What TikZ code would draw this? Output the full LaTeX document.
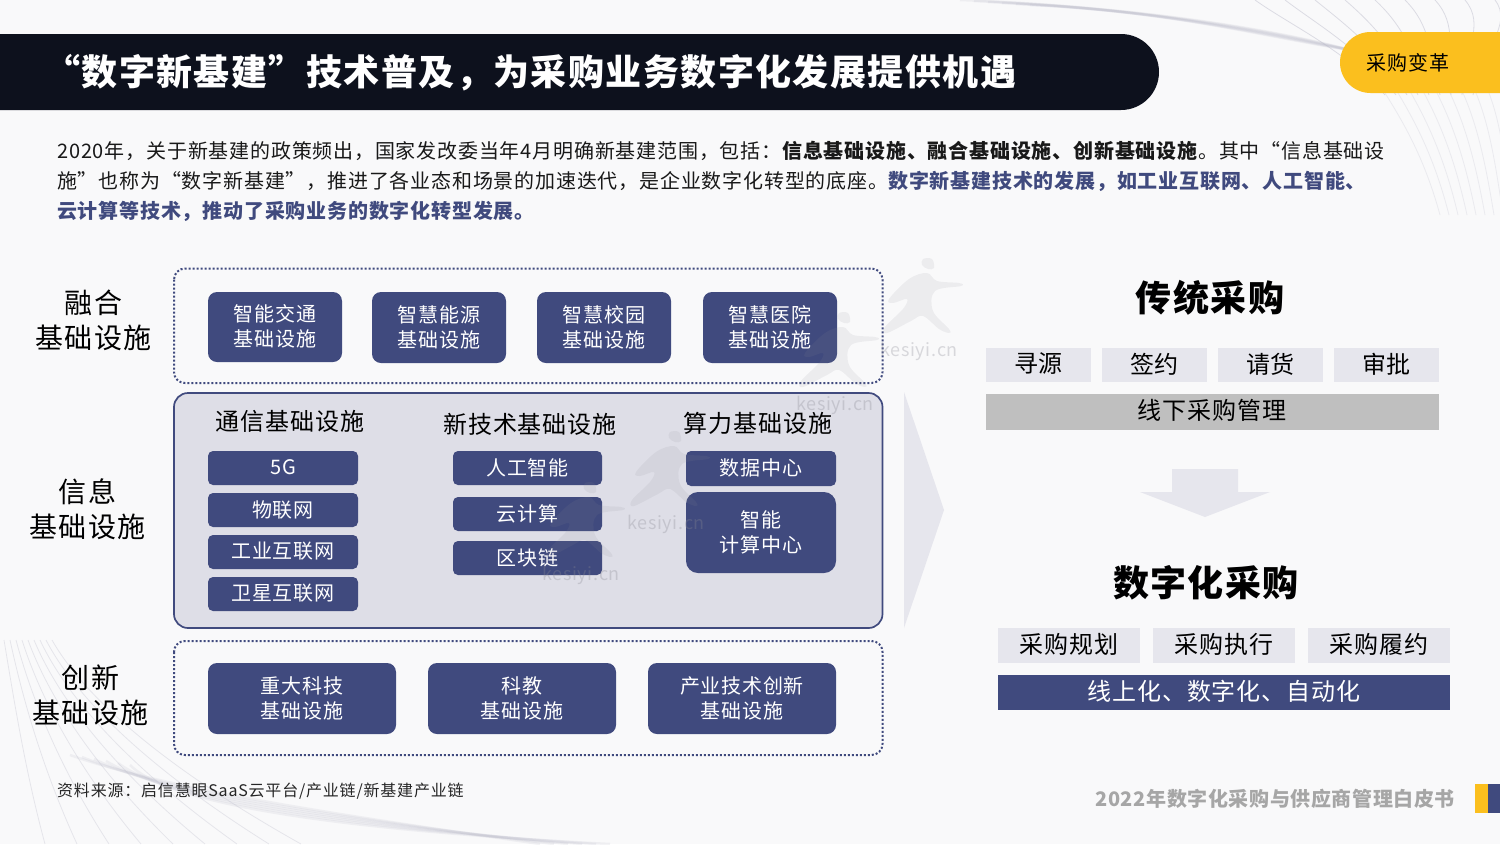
\documentclass[tikz,border=0pt]{standalone}
\usepackage{fontspec}
\setmainfont[LetterSpace=4]{Noto Sans CJK SC}
\setsansfont[LetterSpace=4]{Noto Sans CJK SC}
\definecolor{navy}{HTML}{404A7E}
\definecolor{dark}{HTML}{0D111D}
\definecolor{gold}{HTML}{FBBF1E}
\definecolor{bg}{HTML}{F9F9FA}
\definecolor{panel}{HTML}{DEDEE7}
\definecolor{chip}{HTML}{E6E6ED}
\definecolor{grayc}{HTML}{BFBFBF}
\definecolor{footc}{HTML}{A6A6A6}
\definecolor{wm}{HTML}{8A8A94}
\definecolor{swc}{HTML}{B8B8C8}
\newcommand{\fs}[2]{\fontsize{#1}{#2}\selectfont}
\tikzset{x=1pt,y=-1pt,
 wt/.style={text=white,align=center,font=\fs{20}{25},inner sep=0pt},
 lab/.style={text=black,align=center,font=\fs{28}{35},inner sep=0pt},
 head/.style={text=black,align=center,font=\fs{24}{30},inner sep=0pt},
 line/.style={anchor=west,inner sep=0pt,font=\fs{20}{25},text=black!90},
 chiptxt/.style={text=black,font=\fs{24}{30},inner sep=0pt,align=center},
 swoosh/.style={draw=swc,line width=.8pt,opacity=.45},
 swfade/.style={draw=swc,line width=.8pt,opacity=.22},
 band/.style={draw=swc,line width=2.5pt,opacity=.16},
 wmk/.style={text=wm,font=\fs{18}{24},inner sep=0pt,opacity=.3},
 wmf/.style={fill=wm,draw=none,opacity=.11}}
\newcommand{\bx}[7][9pt]{%
 \fill[navy,rounded corners=#1] (#3,#4) rectangle (#5,#6);
 \node[wt] (#2) at ({(#3+#5)/2},{(#4+#6)/2-.5}) {#7};}
\newcommand{\chipb}[6]{%
 \fill[chip] (#2,#3) rectangle (#4,#5);
 \node[chiptxt] (#1) at ({(#2+#4)/2},{(#3+#5)/2-1}) {#6};}
\newcommand{\runner}[3]{%
 \begin{scope}[shift={(#1,#2)}]
  \fill[wmf] plot[smooth cycle,tension=.6] coordinates {(4,-92) (13,-92) (15,-83) (9,-82) (3,-86)};
  \fill[wmf] plot[smooth cycle,tension=.6] coordinates {(-10,-72) (8,-78) (18,-70) (40,-68) (42,-65) (16,-60) (14,-40) (30,-22) (30,-18) (20,-22) (4,-35) (-8,-30) (-32,-18) (-34,-24) (-16,-42) (-12,-52) (-26,-48) (-30,-52)};
  \node[wmk] (#3) at (0,0) {kesiyi.cn};
 \end{scope}}
\begin{document}
\begin{tikzpicture}
\useasboundingbox (0,0) rectangle (1500,844);
\fill[bg] (0,0) rectangle (1500,844);
% background swooshes
\foreach \i in {0,...,5}{
 \draw[band] (960+\i*14,\i*1) .. controls (1120+\i*10,6+\i) and (1260,26+\i*2) .. (1350,50);
 \draw[band] (70+\i*12,755+\i*2) .. controls (170,790+\i*3) and (340,815+\i*3) .. (540+\i*14,844);
}
\foreach \i in {0,...,8}{
 \draw[swoosh] (1255+\i*30,0) .. controls (1290+\i*28,25) and (1345+\i*17,50) .. (1385+\i*11,95);
 \draw[swfade] (1385+\i*13,93) .. controls (1405+\i*12,125) and (1425+\i*10,160) .. (1440+\i*9,215);
 \draw[swoosh,opacity=.3] (4+\i*6,640) .. controls (14+\i*9,700) and (25+\i*18,770) .. (45+\i*32,844);
}
% title
\fill[dark,rounded corners=38pt] (-60,34) rectangle (1159,110);
\node[anchor=west,inner sep=0pt,text=white,font=\fs{36}{40}\bfseries] (title) at (44,73) {“数字新基建”技术普及，为采购业务数字化发展提供机遇};
% tag
\fill[gold,rounded corners=30.5pt] (1340,32) rectangle (1560,93);
\node[inner sep=0pt,font=\fs{20}{25},text=black] (tag) at (1408,63) {采购变革};
% intro
\node[line] (l1) at (57,151) {2020年，关于新基建的政策频出，国家发改委当年4月明确新基建范围，包括：\textbf{信息基础设施、融合基础设施、创新基础设施}。其中“信息基础设};
\node[line] (l2) at (57,181) {施”也称为“数字新基建”，推进了各业态和场景的加速迭代，是企业数字化转型的底座。\textcolor{navy}{\textbf{数字新基建技术的发展，如工业互联网、人工智能、}}};
\node[line] (l3) at (57,211) {\textcolor{navy}{\textbf{云计算等技术，推动了采购业务的数字化转型发展。}}};
% left labels
\node[lab] (a) at (93.5,320) {融合\\基础设施};
\node[lab] (b) at (87.5,509) {信息\\基础设施};
\node[lab] (c) at (90.5,695) {创新\\基础设施};
% frames
\draw[navy,line width=2pt,dotted,rounded corners=11pt] (174,268.5) rectangle (882.5,383);
\draw[navy,line width=2pt,dotted,rounded corners=11pt] (174,641) rectangle (882.5,755);
\filldraw[fill=panel,draw=navy,line width=1.7pt,rounded corners=14pt] (174,393) rectangle (882.5,628);
% top row
\bx{t1}{208}{292}{342}{362}{智能交通\\基础设施}
\bx{t2}{372}{292}{506}{363}{智慧能源\\基础设施}
\bx{t3}{537}{292}{671}{363}{智慧校园\\基础设施}
\bx{t4}{703}{292}{837}{363}{智慧医院\\基础设施}
% heads
\node[head] (h1) at (290,421) {通信基础设施};
\node[head] (h2) at (530,424) {新技术基础设施};
\node[head] (h3) at (758,423) {算力基础设施};
% column 1
\bx[5pt]{m1}{208}{451}{358}{485}{5G}
\bx[5pt]{m2}{208}{493}{358}{527}{物联网}
\bx[5pt]{m3}{208}{535}{358}{569}{工业互联网}
\bx[5pt]{m4}{208}{577}{358}{611}{卫星互联网}
% column 2
\bx[5pt]{n1}{453}{451}{602}{485}{人工智能}
\bx[5pt]{n2}{453}{497}{602}{531}{云计算}
\bx[5pt]{n3}{453}{541}{602}{575}{区块链}
% column 3
\bx[5pt]{p1}{686}{451}{836}{486}{数据中心}
\bx[12pt]{p2}{686}{492}{836}{573}{智能\\计算中心}
% bottom row
\bx{q1}{208}{663}{396}{734}{重大科技\\基础设施}
\bx{q2}{428}{663}{616}{734}{科教\\基础设施}
\bx{q3}{648}{663}{836}{734}{产业技术创新\\基础设施}
% source
\node[anchor=west,inner sep=0pt,font=\fs{16}{20},text=black!85] (src) at (57,791.5) {\addfontfeature{LetterSpace=5}资料来源：启信慧眼SaaS云平台/产业链/新基建产业链};
% big arrow
\fill[chip] (904,392) -- (944,510) -- (904,628) -- cycle;
% right side
\node[inner sep=0pt,font=\fs{36}{40}\bfseries,text=black] (tr) at (1210,298) {传统采购};
\chipb{r1}{986}{348}{1091}{382}{寻源}
\chipb{r2}{1102}{348}{1207}{382}{签约}
\chipb{r3}{1218}{348}{1323}{382}{请货}
\chipb{r4}{1334}{348}{1439}{382}{审批}
\fill[grayc] (986,394) rectangle (1439,430);
\node[chiptxt] (r5) at (1212,410.5) {线下采购管理};
\fill[chip] (1172,469) -- (1238,469) -- (1238,492) -- (1270,492) -- (1205,517) -- (1140,492) -- (1172,492) -- cycle;
\node[inner sep=0pt,font=\fs{36}{40}\bfseries,text=black] (dg) at (1206,583) {数字化采购};
\chipb{d1}{998}{628}{1140}{663}{采购规划}
\chipb{d2}{1153}{628}{1295}{663}{采购执行}
\chipb{d3}{1308}{628}{1450}{663}{采购履约}
\fill[navy] (998,675) rectangle (1450,710);
\node[chiptxt,text=white] (d4) at (1224,691) {线上化、数字化、自动化};
% footer
\node[anchor=east,inner sep=0pt,font=\fs{20}{25}\bfseries,text=footc] (ft) at (1455,799) {\addfontfeature{LetterSpace=3}2022年数字化采购与供应商管理白皮书};
\fill[gold] (1475,784) rectangle (1488,813);
\fill[navy] (1488,784) rectangle (1500,813);
% watermarks
\runner{919}{351}{w1}
\runner{835}{405}{w2}
\runner{666}{524}{w3}
\runner{581}{575}{w4}
\end{tikzpicture}
\end{document}
